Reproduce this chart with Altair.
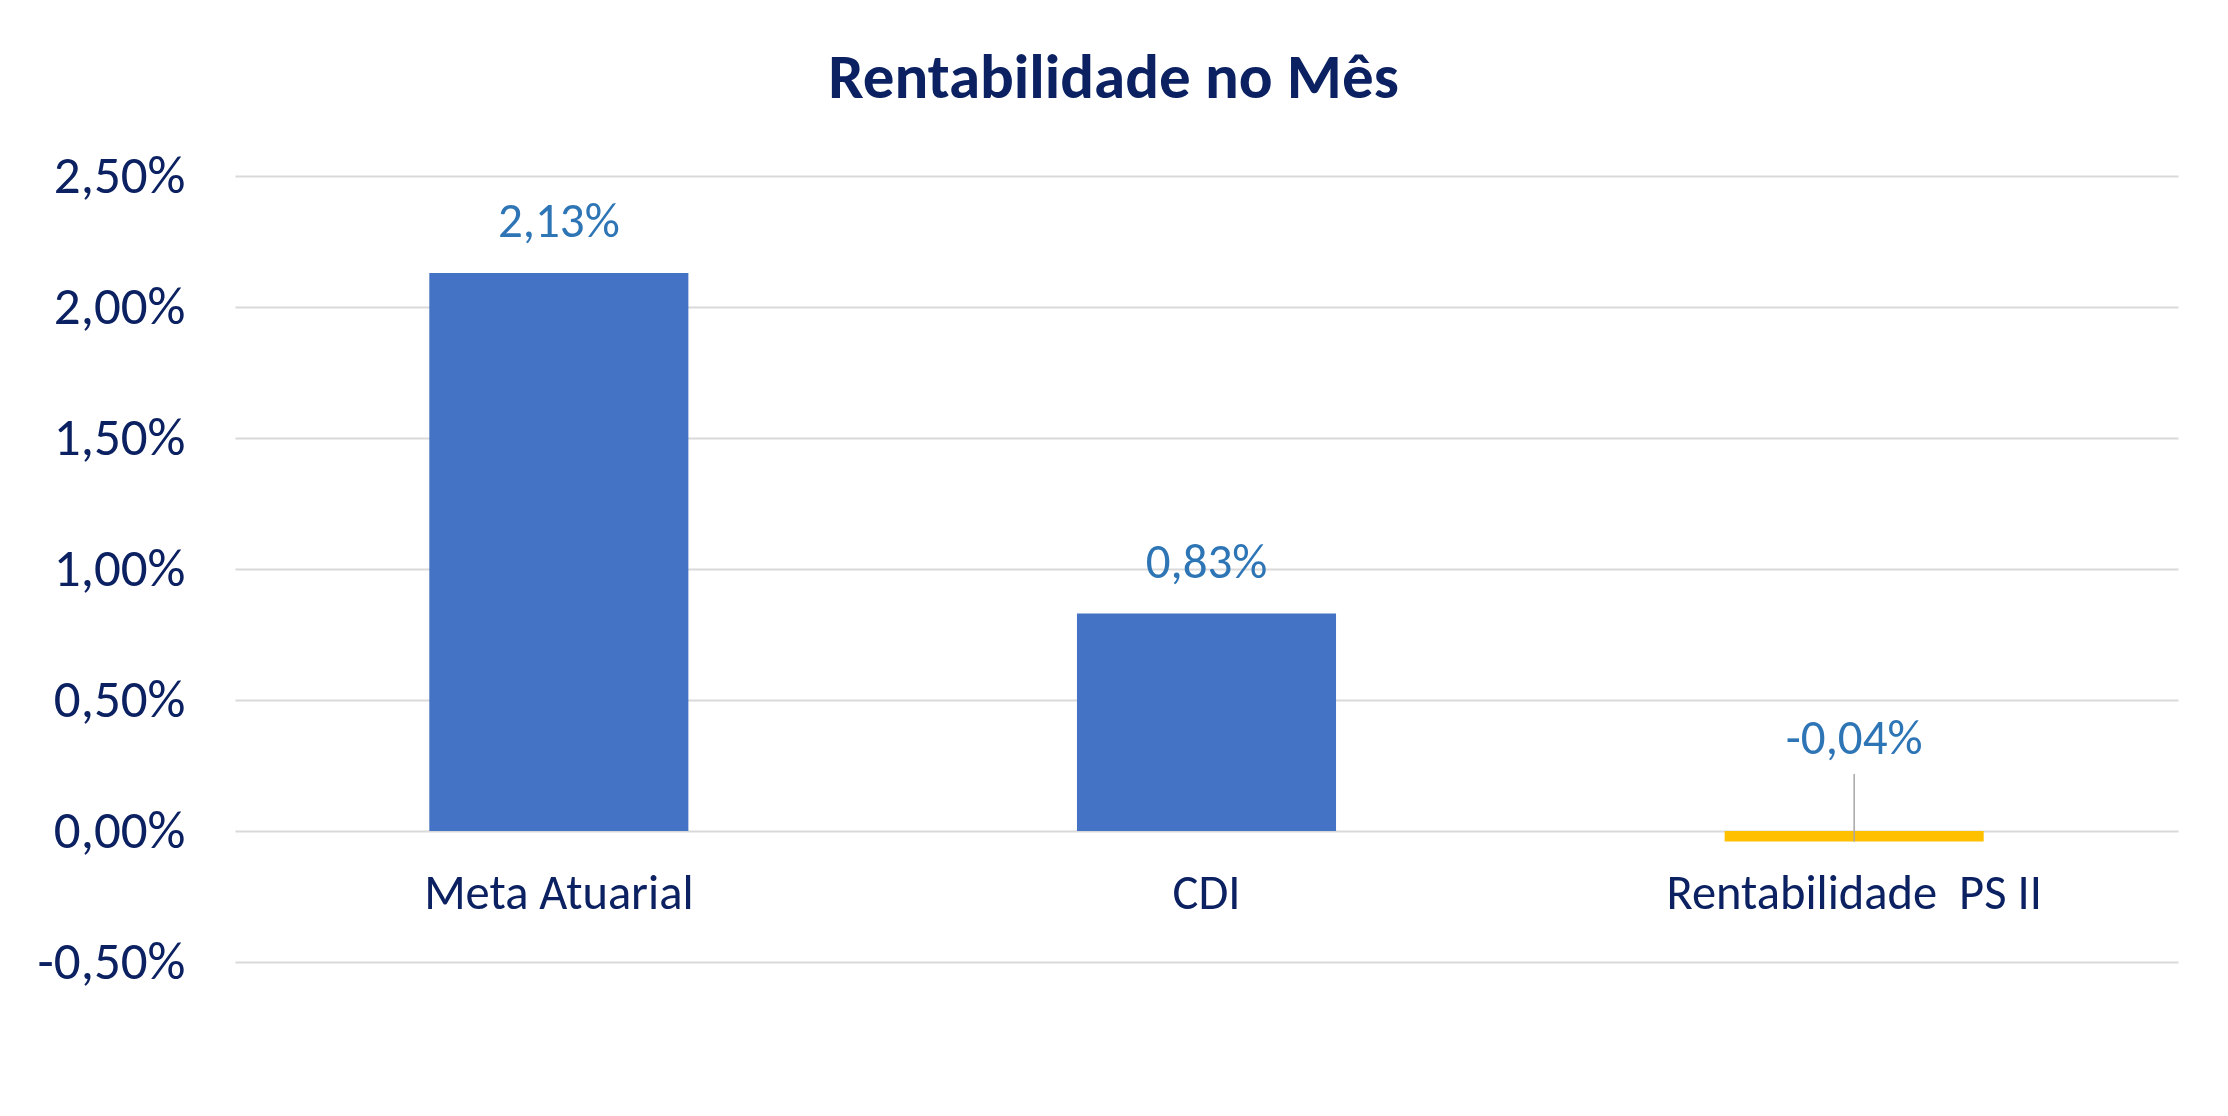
import altair as alt
import pandas as pd

categories = ["Meta Atuarial", "CDI", "Rentabilidade\u00a0 PS II"]
values = [0.0213, 0.0083, -0.0004]
bar_colors = ["#4472C4", "#4472C4", "#FFC000"]
y_ticks = [-0.005, 0.0, 0.005, 0.010, 0.015, 0.020, 0.025]

df = pd.DataFrame({"cat": categories, "value": values})

NAVY = "#0B2161"
LABEL_BLUE = "#2E75B6"
FONT = "Carlito, Calibri, Lato"

fmt = "replace(replace(format(datum.value, '.2%'), '.', ','), '\u2212', '-')"

x_enc = alt.X(
    "cat:N",
    sort=categories,
    scale=alt.Scale(paddingInner=0.6, paddingOuter=0.3),
    axis=alt.Axis(
        title=None, labelAngle=0, offset=-131, domain=False, ticks=False,
        labelFontSize=48.5, labelColor=NAVY, labelFont=FONT, labelPadding=39,
        labelLimit=800, grid=False,
    ),
)
y_scale = alt.Scale(domain=[-0.005, 0.025], nice=False, zero=False)

bars = alt.Chart(df).mark_bar().encode(
    x=x_enc,
    y=alt.Y(
        "value:Q",
        scale=y_scale,
        axis=alt.Axis(
            title=None, values=y_ticks, domain=False, ticks=False,
            labelExpr=fmt,
            labelFontSize=53, labelColor=NAVY, labelFont=FONT, labelPadding=50,
            labelBaseline="middle",
            grid=True, gridColor="#D9D9D9", gridWidth=2,
        ),
    ),
    y2=alt.datum(0),
    color=alt.Color("cat:N", scale=alt.Scale(domain=categories, range=bar_colors), legend=None),
)

pos_labels = alt.Chart(df).transform_filter("datum.value >= 0").transform_calculate(
    lbl=fmt
).mark_text(
    baseline="alphabetic", dy=-36, fontSize=49, color=LABEL_BLUE, font=FONT
).encode(
    x=alt.X("cat:N", sort=categories),
    y=alt.Y("value:Q", scale=y_scale),
    text="lbl:N",
)

neg_labels = alt.Chart(df).transform_filter("datum.value < 0").transform_calculate(
    lbl=fmt, zero="0"
).mark_text(
    baseline="alphabetic", dy=-77, fontSize=49, color=LABEL_BLUE, font=FONT
).encode(
    x=alt.X("cat:N", sort=categories),
    y=alt.Y("zero:Q", scale=y_scale),
    text="lbl:N",
)

leader = alt.Chart(df).transform_filter("datum.value < 0").mark_rule(
    color="#A6A6A6", strokeWidth=1.5, y2Offset=-57
).encode(
    x=alt.X("cat:N", sort=categories),
    y=alt.Y("value:Q", scale=y_scale),
    y2=alt.datum(0),
)

chart = alt.layer(bars, leader, pos_labels, neg_labels).properties(
    width=1943,
    height=786,
    background="white",
    autosize=alt.AutoSizeParams(type="none"),
    padding={"left": 227, "top": 168, "right": 42, "bottom": 146},
    title=alt.TitleParams(
        "Rentabilidade no Mês", fontSize=63, fontWeight="bold", color=NAVY,
        font=FONT, anchor="middle", baseline="alphabetic", offset=-11, dx=-93,
    ),
).configure_view(stroke=None)

chart.save("out.html", embed_options={"renderer": "svg", "actions": False})
